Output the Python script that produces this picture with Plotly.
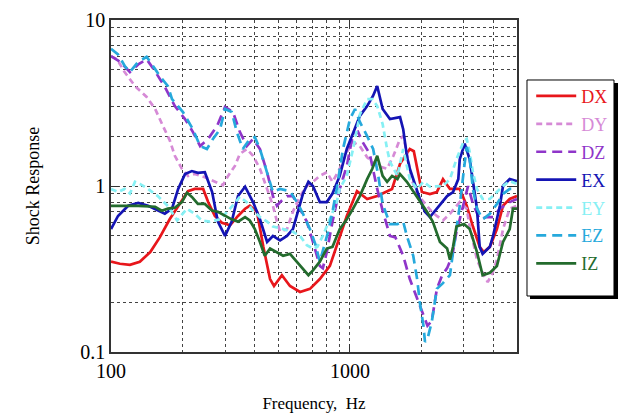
import plotly.graph_objects as go

# ---- data (frequency in Hz, shock response) ----
dx_f = [100,109,120,132,146,160,176,195,210,224,243,255,272,291,315,340,364,381,408,434,463,481,519,561,618,680,748,824,906,970,1070,1180,1300,1400,1500,1620,1780,1850,1920,2000,2160,2310,2450,2620,2880,3080,3270,3490,3630,3850,4120,4370,4660,5000]
dx_v = [0.35,0.34,0.335,0.35,0.40,0.49,0.63,0.79,0.93,0.96,0.96,0.80,0.66,0.60,0.58,0.66,0.73,0.76,0.70,0.43,0.275,0.25,0.29,0.25,0.23,0.24,0.275,0.33,0.50,0.66,0.93,0.835,0.87,0.92,0.96,1.36,1.67,1.62,1.21,0.92,0.895,0.92,1.10,0.96,0.96,0.76,0.57,0.43,0.40,0.43,0.55,0.76,0.835,0.87]

dy_f = [100,106,114,126,141,153,165,176,185,198,210,224,247,272,294,309,330,346,370,393,420,450,476,495,510,545,577,618,660,700,748,800,845,906,970,1030,1100,1180,1300,1430,1520,1620,1670,1730,1810,1910,2060,2200,2310,2450,2620,2880,3080,3170,3400,3590,3770,3920,4120,4370,4660,5000]
dy_v = [6.06,5.8,4.86,4.0,3.44,2.91,2.3,1.89,1.52,1.27,1.15,1.18,1.13,1.06,1.01,1.15,1.32,1.56,1.67,1.52,1.27,0.96,0.76,0.61,0.53,0.55,0.70,0.87,1.0,1.06,1.15,1.21,1.06,1.27,1.60,1.84,1.74,1.49,1.32,1.27,1.52,1.92,2.0,1.60,1.10,0.895,0.78,0.70,0.66,0.62,0.68,0.80,0.73,0.57,0.36,0.30,0.264,0.29,0.36,0.55,0.73,0.76]

dz_f = [100,109,120,130,141,153,168,185,204,220,236,255,278,300,324,346,370,393,420,450,476,495,510,545,577,618,660,700,748,770,800,845,906,970,1030,1080,1130,1210,1300,1370,1470,1550,1670,1780,1910,2030,2110,2200,2310,2430,2550,2680,2790,2880,3000,3120,3270,3490,3730,3970,4240,4660,5000]
dz_v = [6.06,5.6,4.86,5.4,5.8,4.9,3.95,3.03,2.53,2.12,1.74,1.92,2.3,2.99,2.79,2.12,1.74,1.92,1.67,1.21,0.87,0.76,0.80,0.87,0.87,0.73,0.61,0.46,0.33,0.32,0.40,0.61,0.96,1.32,2.06,2.12,1.84,1.56,0.96,0.71,0.50,0.49,0.38,0.275,0.21,0.165,0.144,0.154,0.24,0.29,0.32,0.38,0.53,0.63,0.80,1.0,0.78,0.63,0.65,0.65,0.73,0.80,0.835]

ex_f = [100,107,118,130,143,157,168,180,191,204,218,231,247,265,280,300,320,340,364,393,420,450,476,510,545,577,605,636,670,700,748,800,845,906,970,1030,1100,1180,1250,1300,1370,1470,1620,1670,1730,1780,1910,1960,2060,2160,2310,2550,2700,2840,2880,3020,3170,3270,3400,3490,3590,3850,3970,4240,4370,4660,5000]
ex_v = [0.55,0.66,0.76,0.79,0.76,0.71,0.68,0.73,0.96,1.18,1.23,1.20,1.21,0.92,0.61,0.50,0.61,0.87,0.99,0.80,0.63,0.46,0.50,0.47,0.50,0.55,0.70,0.90,1.06,1.0,0.80,0.80,0.90,1.15,1.67,2.1,2.64,3.03,3.5,4.0,2.91,2.53,2.6,2.2,1.52,1.27,0.92,0.835,0.70,0.65,0.73,0.87,0.92,1.10,1.45,1.8,1.45,1.10,0.73,0.43,0.39,0.43,0.50,0.76,1.0,1.10,1.07]

ey_f = [100,107,114,120,126,132,143,157,174,189,208,224,240,259,286,315,346,370,393,420,450,476,525,577,618,660,700,730,770,824,880,906,970,1030,1100,1180,1240,1300,1370,1430,1470,1580,1670,1730,1780,1910,2030,2160,2310,2450,2620,2790,3000,3080,3170,3270,3400,3590,3850,4120,4370,4660,5000]
ey_v = [0.96,0.92,0.96,0.90,1.06,1.03,0.96,0.87,0.75,0.62,0.73,0.68,0.62,0.61,0.63,0.73,0.86,0.80,0.71,0.65,0.61,0.57,0.55,0.53,0.50,0.44,0.42,0.43,0.50,0.63,0.80,0.96,1.15,1.67,2.7,3.34,3.34,3.03,2.36,1.67,1.4,1.15,1.67,1.32,1.10,0.96,1.06,0.99,1.0,1.0,1.10,1.45,1.87,1.92,1.6,1.21,0.96,0.835,0.835,0.92,1.0,1.07,1.03]

ez_f = [100,107,114,120,130,141,153,160,173,180,200,220,236,252,267,286,300,320,336,356,381,400,420,450,476,510,561,600,636,680,715,748,770,810,845,880,935,1000,1050,1100,1180,1250,1310,1370,1470,1580,1670,1730,1840,1910,1960,2030,2060,2110,2200,2310,2450,2620,2700,2790,2880,3000,3080,3170,3270,3400,3590,3850,4120,4370,4660,5000]
ez_v = [6.7,6.2,5.3,4.86,5.6,6.0,5.06,4.6,4.0,3.34,2.79,2.2,1.74,1.67,1.92,2.2,2.91,2.79,2.12,1.67,1.92,1.97,1.67,1.18,0.92,0.96,0.93,0.80,0.68,0.55,0.45,0.35,0.41,0.53,0.70,0.96,1.67,2.53,2.91,2.43,2.0,1.67,1.18,0.78,0.59,0.59,0.61,0.50,0.38,0.275,0.20,0.144,0.115,0.12,0.152,0.24,0.26,0.29,0.40,0.55,0.76,1.27,1.72,1.45,0.96,0.73,0.63,0.68,0.78,0.895,0.96,0.96]

iz_f = [100,130,153,163,173,185,198,208,218,231,247,265,280,300,320,340,364,381,400,420,440,463,495,525,561,600,636,670,700,748,800,845,906,970,1030,1100,1180,1240,1300,1370,1430,1500,1580,1620,1730,1840,1960,2100,2220,2380,2550,2620,2700,2790,3000,3170,3270,3400,3590,3850,4120,4370,4660,4810,5000]
iz_v = [0.76,0.76,0.75,0.71,0.73,0.74,0.80,0.91,0.86,0.78,0.78,0.71,0.70,0.66,0.63,0.61,0.65,0.62,0.55,0.46,0.38,0.42,0.40,0.38,0.39,0.35,0.32,0.29,0.31,0.35,0.42,0.43,0.55,0.63,0.73,0.87,1.10,1.27,1.52,1.15,1.06,1.15,1.10,1.18,1.06,0.93,0.80,0.70,0.61,0.46,0.42,0.36,0.43,0.57,0.59,0.55,0.48,0.40,0.29,0.30,0.33,0.46,0.55,0.73,0.73]

series = [
    ("DX", dx_f, dx_v, "#e8161b", "solid"),
    ("DY", dy_f, dy_v, "#d68ad6", "6px,4px"),
    ("DZ", dz_f, dz_v, "#8f35c9", "10px,6px"),
    ("EX", ex_f, ex_v, "#1414b4", "solid"),
    ("EY", ey_f, ey_v, "#86f0f4", "6px,4px"),
    ("EZ", ez_f, ez_v, "#26a9dc", "10px,6px"),
    ("IZ", iz_f, iz_v, "#236b2d", "solid"),
]

SERIF = "Liberation Serif, Times New Roman, serif"

fig = go.Figure()
for name, f, v, col, dash in series:
    fig.add_trace(go.Scatter(
        x=f, y=v, mode="lines", legendgroup=name,
        name=f"<span style='color:{col}'>{name}</span>",
        line=dict(color=col, width=2.7, dash=dash),
    ))

grid_col = "#444"
fig.update_layout(
    width=622, height=419,
    margin=dict(l=111, r=105, t=20, b=67, autoexpand=False),
    paper_bgcolor="white", plot_bgcolor="white",
    font=dict(family=SERIF, color="black"),
    showlegend=True,
    legend=dict(
        x=1.035, y=0.826, xanchor="left", yanchor="top",
        bgcolor="rgba(0,0,0,0)", borderwidth=0,
        font=dict(family=SERIF, size=18),
        itemwidth=40, tracegroupgap=1.5, traceorder="grouped",
    ),
    xaxis=dict(
        type="log", range=[2, 3.69897], automargin=False,
        tickvals=[100, 1000], ticktext=["100", "1000"],
        tickfont=dict(family=SERIF, size=20),
        ticks="inside", ticklen=8, tickcolor="#333",
        showline=True, linecolor="#333", linewidth=1.5, mirror="ticks",
        showgrid=True, gridcolor=grid_col, griddash="dot", gridwidth=1,
        minor=dict(dtick="D1", showgrid=True, gridcolor=grid_col, griddash="dot", gridwidth=1, ticks=""),
        title=dict(text="Frequency,  Hz", font=dict(family=SERIF, size=17), standoff=16),
        zeroline=False,
    ),
    yaxis=dict(
        type="log", range=[-1, 1], automargin=False,
        tickvals=[0.1, 1, 10], ticktext=["0.1", "1", "10"],
        tickfont=dict(family=SERIF, size=20),
        ticks="inside", ticklen=8, tickcolor="#333",
        showline=True, linecolor="#333", linewidth=1.5, mirror="ticks",
        showgrid=True, gridcolor=grid_col, griddash="dot", gridwidth=1,
        minor=dict(dtick="D1", showgrid=True, gridcolor=grid_col, griddash="dot", gridwidth=1, ticks=""),
        title=dict(text="Shock Response", font=dict(family=SERIF, size=18), standoff=36),
        zeroline=False,
    ),
    shapes=[
        dict(type="rect", xref="paper", yref="paper", x0=1.032, x1=1.2488, y0=0.1596, y1=0.8102,
             fillcolor="black", line=dict(width=0), layer="above"),
        dict(type="rect", xref="paper", yref="paper", x0=1.0246, x1=1.2389, y0=0.1687, y1=0.8193,
             fillcolor="white", line=dict(color="black", width=1), layer="above"),
    ],
)

fig.write_html("out.html")
